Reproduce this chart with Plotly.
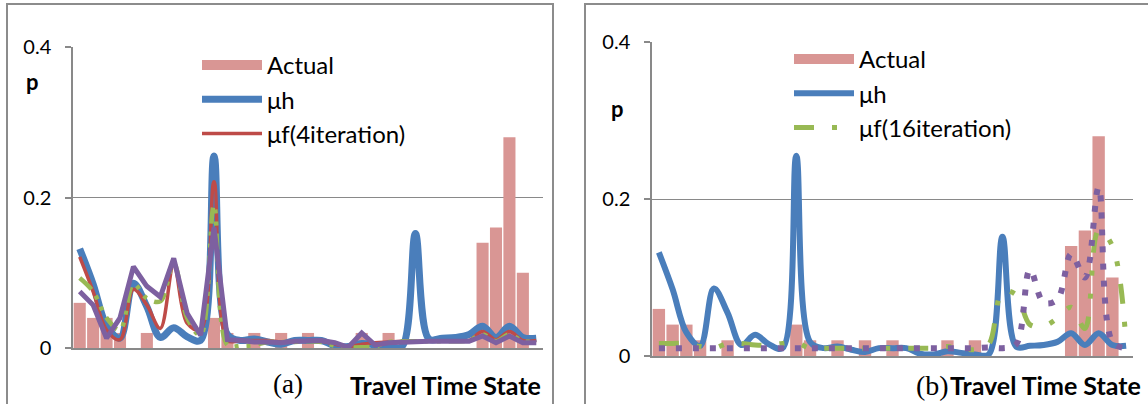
import plotly.graph_objects as go

# ---------------- data ----------------
states = list(range(1, 36))

actual = [0.06, 0.04, 0.04, 0.02, 0.0, 0.02, 0.0, 0.0, 0.0, 0.0,
          0.04, 0.02, 0.0, 0.02, 0.0, 0.02, 0.0, 0.02, 0.0, 0.0,
          0.0, 0.02, 0.0, 0.02, 0.0, 0.0, 0.0, 0.0, 0.0, 0.0,
          0.14, 0.16, 0.28, 0.10, 0.0]

mu_h = [0.132, 0.085, 0.030, 0.013, 0.086, 0.055, 0.014, 0.027, 0.015, 0.010,
        0.255, 0.018, 0.010, 0.012, 0.008, 0.005, 0.010, 0.010, 0.010, 0.003,
        0.002, 0.006, 0.004, 0.002, 0.002, 0.152, 0.012, 0.013, 0.014, 0.018,
        0.029, 0.014, 0.029, 0.014, 0.013]

mu_f4 = [0.121, 0.075, 0.024, 0.011, 0.078, 0.057, 0.026, 0.110, 0.033, 0.024,
         0.221, 0.010, 0.010, 0.010, 0.010, 0.008, 0.008, 0.010, 0.009, 0.005,
         0.002, 0.005, 0.007, 0.008, 0.009, 0.009, 0.009, 0.009, 0.009, 0.010,
         0.022, 0.011, 0.022, 0.010, 0.010]

left_green = [0.093, 0.075, 0.040, 0.024, 0.085, 0.066, 0.062, 0.113, 0.040, 0.017,
              0.190, 0.004, 0.003, 0.004, 0.008, 0.008, 0.008, 0.009, 0.008, 0.003,
              0.001, 0.001, 0.002, 0.008, 0.009, 0.009, 0.009, 0.009, 0.009, 0.010,
              0.018, 0.009, 0.018, 0.009, 0.009]

left_purple = [0.075, 0.057, 0.013, 0.040, 0.108, 0.082, 0.068, 0.119, 0.046, 0.017,
               0.160, 0.011, 0.010, 0.008, 0.008, 0.007, 0.009, 0.010, 0.010, 0.007,
               0.001, 0.020, 0.004, 0.007, 0.008, 0.009, 0.009, 0.009, 0.009, 0.009,
               0.016, 0.007, 0.016, 0.007, 0.007]

mu_f16 = [0.016, 0.016, 0.016, 0.012, 0.010, 0.016, 0.016, 0.014, 0.014, 0.016,
          0.017, 0.010, 0.010, 0.010, 0.010, 0.010, 0.010, 0.010, 0.010, 0.010,
          0.010, 0.012, 0.010, 0.008, 0.015, 0.082, 0.078, 0.040, 0.038, 0.048,
          0.062, 0.035, 0.160, 0.140, 0.015]

right_purple = [0.010, 0.010, 0.010, 0.010, 0.010, 0.010, 0.010, 0.010, 0.010, 0.010,
                0.010, 0.010, 0.010, 0.010, 0.010, 0.010, 0.010, 0.010, 0.010, 0.010,
                0.010, 0.010, 0.010, 0.010, 0.011, 0.010, 0.015, 0.110, 0.068, 0.072,
                0.130, 0.100, 0.215, 0.018, 0.010]

y_ticks = [0, 0.2, 0.4]
y_ticktext = ["0", "0.2", "0.4"]

# ---------------- style ----------------
W, H = 1148, 404
FONT = "Lato, Carlito, Calibri, sans-serif"
SERIF = "Liberation Serif, Times New Roman, serif"
BAR = "#D99694"
BLUE = "#4A7EBB"
RED = "#BE4B48"
GREEN = "#98B954"
PURPLE = "#7D60A0"
GRID = "#898989"


def fx(px):
    return px / W


def fy(py):
    return 1 - py / H


fig = go.Figure()

# ---- left panel (a) ----
fig.add_trace(go.Bar(x=states, y=actual, name="Actual", marker=dict(color=BAR, line=dict(width=0)),
                     xaxis="x", yaxis="y", showlegend=False, legendgroup="act_a"))
fig.add_trace(go.Scatter(x=[None], y=[None], name="Actual", mode="lines", line=dict(color=BAR, width=15),
                         xaxis="x", yaxis="y", legend="legend", legendgroup="act_a", hoverinfo="skip"))
fig.add_trace(go.Scatter(x=states, y=mu_h, name="μh", mode="lines", line=dict(color=BLUE, width=7, shape="spline"),
                         xaxis="x", yaxis="y", legend="legend"))
fig.add_trace(go.Scatter(x=states, y=mu_f4, name="μf(4iteration)", mode="lines",
                         line=dict(color=RED, width=3.5, shape="spline"),
                         xaxis="x", yaxis="y", legend="legend"))
fig.add_trace(go.Scatter(x=states, y=left_green, name="green", mode="lines", showlegend=False,
                         line=dict(color=GREEN, width=4.5, shape="spline", dash="16px,8px,4px,8px,4px,8px"),
                         xaxis="x", yaxis="y"))
fig.add_trace(go.Scatter(x=states, y=left_purple, name="purple", mode="lines", showlegend=False,
                         line=dict(color=PURPLE, width=5, shape="linear"),
                         xaxis="x", yaxis="y"))

# ---- right panel (b) ----
fig.add_trace(go.Bar(x=states, y=actual, name="Actual", marker=dict(color=BAR, line=dict(width=0)),
                     xaxis="x2", yaxis="y2", showlegend=False, legendgroup="act_b"))
fig.add_trace(go.Scatter(x=[None], y=[None], name="Actual", mode="lines", line=dict(color=BAR, width=15),
                         xaxis="x2", yaxis="y2", legend="legend2", legendgroup="act_b", hoverinfo="skip"))
fig.add_trace(go.Scatter(x=states, y=mu_h, name="μh", mode="lines", line=dict(color=BLUE, width=6, shape="spline"),
                         xaxis="x2", yaxis="y2", legend="legend2"))
fig.add_trace(go.Scatter(x=states, y=mu_f16, name="μf(16iteration)", mode="lines",
                         line=dict(color=GREEN, width=5, shape="spline", dash="20px,18px,5px,18px,5px,18px"),
                         xaxis="x2", yaxis="y2", legend="legend2"))
fig.add_trace(go.Scatter(x=states, y=right_purple, name="purple", mode="lines", showlegend=False,
                         line=dict(color=PURPLE, width=6, shape="spline", dash="6px,11px"),
                         xaxis="x2", yaxis="y2"))

xcommon = dict(range=[0.5, 35.5], showticklabels=False, ticks="", showgrid=False, zeroline=False,
               showline=True, linecolor=GRID, linewidth=1.5, fixedrange=True, automargin=False)
ycommon = dict(range=[0, 0.4], tickvals=y_ticks, ticktext=y_ticktext, showgrid=True, gridcolor=GRID,
               gridwidth=1.2, zeroline=False, showline=True, linecolor=GRID, linewidth=1.5,
               ticks="outside", tickcolor=GRID, ticklen=6, tickwidth=1.5, automargin=False,
               fixedrange=True,
               tickfont=dict(family=FONT, size=20, color="black"), ticklabelstandoff=10)

leg_common = dict(font=dict(family=FONT, size=24, color="black"), bgcolor="rgba(0,0,0,0)",
                  xanchor="left", yanchor="top", itemwidth=60, tracegroupgap=0,
                  traceorder="normal")

fig.update_layout(
    width=W, height=H, autosize=False,
    margin=dict(l=0, r=0, t=0, b=0, pad=0, autoexpand=False),
    paper_bgcolor="white", plot_bgcolor="white",
    bargap=0.1,
    xaxis=dict(domain=[fx(73), fx(543)], anchor="y", **xcommon),
    yaxis=dict(domain=[fy(348), fy(47)], anchor="x", **ycommon),
    xaxis2=dict(domain=[fx(652), fx(1133)], anchor="y2", **xcommon),
    yaxis2=dict(domain=[fy(356), fy(42)], anchor="x2", **ycommon),
    legend=dict(x=fx(197), y=fy(43), **leg_common),
    legend2=dict(x=fx(789), y=fy(37), **leg_common),
    showlegend=True,
)

# panel borders
fig.add_shape(type="rect", xref="paper", yref="paper", x0=fx(7), x1=fx(553), y0=-0.1, y1=fy(4),
              line=dict(color="#8C8C8C", width=2), fillcolor="rgba(0,0,0,0)", layer="below")
fig.add_shape(type="rect", xref="paper", yref="paper", x0=fx(585), x1=1.1, y0=-0.1, y1=fy(4),
              line=dict(color="#8C8C8C", width=2), fillcolor="rgba(0,0,0,0)", layer="below")

ann = []
ann.append(dict(text="<b>p</b>", x=fx(32), y=fy(82), font=dict(family=FONT, size=22, color="black")))
ann.append(dict(text="<b>p</b>", x=fx(617), y=fy(108), font=dict(family=FONT, size=22, color="black")))
ann.append(dict(text="(a)", x=fx(288), y=fy(384), font=dict(family=SERIF, size=27, color="black")))
ann.append(dict(text="<b>Travel Time State</b>", x=fx(446), y=fy(385), font=dict(family=FONT, size=25, color="black")))
ann.append(dict(text="(b)", x=fx(932), y=fy(385), font=dict(family=SERIF, size=28, color="black")))
ann.append(dict(text="<b>Travel Time State</b>", x=fx(1045), y=fy(385), font=dict(family=FONT, size=25, color="black")))
for a in ann:
    a.update(xref="paper", yref="paper", showarrow=False, xanchor="center", yanchor="middle")
fig.update_layout(annotations=ann)

fig.write_html("out.html", config={"displayModeBar": False},
               post_script="document.body.style.margin='0px';document.body.style.padding='0px';")
